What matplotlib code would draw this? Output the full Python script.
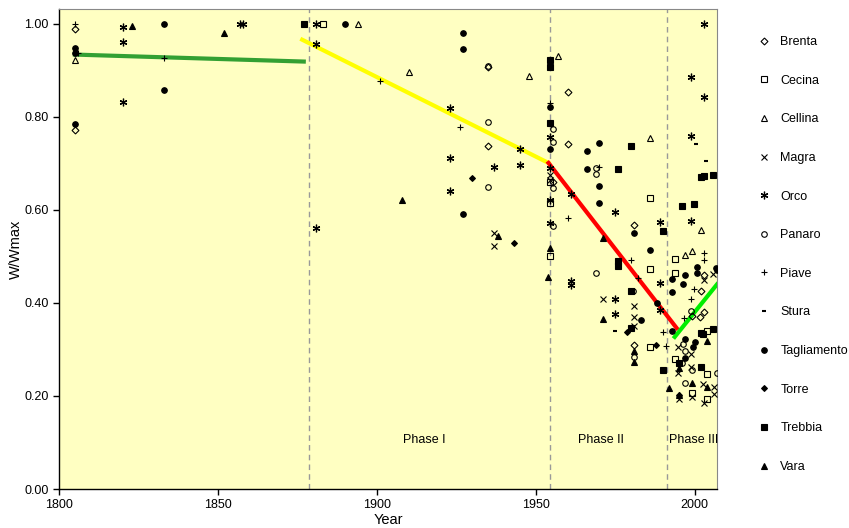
import matplotlib.pyplot as plt

plt.rcParams['font.family'] = ['Liberation Sans', 'DejaVu Sans']

# W/Wmax observations per river (year, value)
brenta_x = [1805, 1805, 1935, 1935, 1960, 1960, 1955.5, 1981, 1981, 2002.8, 2001.9, 2002.8, 1999, 2001.6]
brenta_y = [0.99, 0.772, 0.907, 0.738, 0.854, 0.742, 0.66, 0.568, 0.31, 0.46, 0.426, 0.381, 0.373, 0.37]

cecina_x = [1883, 1954.5, 1954.5, 1954.5, 1986, 1986, 1993.7, 1993.7, 1986, 1993.7, 2004, 2004, 1999, 2004]
cecina_y = [1.0, 0.66, 0.615, 0.501, 0.626, 0.473, 0.495, 0.465, 0.306, 0.28, 0.34, 0.247, 0.206, 0.194]

cellina_x = [1805, 1894, 1910, 1948, 1957, 1986, 2002, 1997, 1999]
cellina_y = [0.922, 1.0, 0.897, 0.888, 0.931, 0.754, 0.557, 0.503, 0.512]

magra_x = [1937, 1937, 1954.5, 1954.5, 1971, 1981, 1981, 1981, 2002.8, 2005.6, 1994.7, 1998.7,
           1998.7, 1994.7, 2002.5, 2006, 1995, 1999, 2002.8, 2006]
magra_y = [0.551, 0.523, 0.675, 0.665, 0.409, 0.394, 0.37, 0.35, 0.45, 0.462, 0.305, 0.29,
           0.262, 0.249, 0.226, 0.219, 0.194, 0.198, 0.185, 0.204]

orco_x = [1820, 1820, 1820, 1857, 1858, 1881, 1881, 1881, 1923, 1923, 1923, 1937, 1945, 1945,
          1954.5, 1954.5, 1954.5, 1954.5, 1961, 1961, 1961, 1975, 1975, 1975, 1989, 1989, 1989,
          1998.7, 1998.7, 1998.7, 2002.8, 2002.8]
orco_y = [0.993, 0.962, 0.833, 1.0, 1.0, 1.0, 0.956, 0.561, 0.82, 0.712, 0.641, 0.693, 0.73, 0.697,
          0.757, 0.69, 0.621, 0.572, 0.634, 0.447, 0.439, 0.596, 0.409, 0.376, 0.574, 0.443, 0.385,
          0.886, 0.759, 0.576, 1.0, 0.843]

panaro_x = [1935, 1935, 1935, 1955.5, 1955.5, 1955.5, 1955.5, 1969, 1969, 1969, 1980.5, 1981,
            1998.7, 1996.2, 1997, 1996, 1999, 1997, 2007]
panaro_y = [0.91, 0.789, 0.649, 0.774, 0.746, 0.647, 0.566, 0.69, 0.677, 0.465, 0.426, 0.284,
            0.383, 0.312, 0.297, 0.27, 0.255, 0.228, 0.249]

piave_x = [1805, 1806, 1833, 1901, 1926, 1954.5, 1960, 1970, 1980, 1982, 2002.8, 2002.8, 1999.7,
           1998.7, 1996.5, 1990, 1990.9]
piave_y = [1.0, 0.937, 0.926, 0.877, 0.779, 0.83, 0.583, 0.692, 0.492, 0.454, 0.507, 0.492, 0.43,
           0.409, 0.368, 0.337, 0.308]

stura_x = [1975, 2000.3, 2003.5]
stura_y = [0.34, 0.742, 0.706]

tagl_x = [1805, 1805, 1805, 1833, 1833, 1890, 1927, 1927, 1927, 1954.5, 1954.5, 1966, 1966, 1970,
          1970, 1970, 1981, 1986, 1983, 1988, 1992.7, 1992.7, 1992.7, 1996.2, 1997, 1997, 1997,
          2000, 1999.4, 2000.6, 2000.6, 2006.6, 2007]
tagl_y = [0.948, 0.937, 0.785, 1.0, 0.858, 1.0, 0.98, 0.946, 0.592, 0.822, 0.731, 0.727, 0.688, 0.744,
          0.652, 0.615, 0.55, 0.514, 0.363, 0.4, 0.452, 0.424, 0.34, 0.441, 0.46, 0.322, 0.282,
          0.316, 0.305, 0.477, 0.465, 0.475, 0.471]

torre_x = [1930, 1943, 1978.6, 1987.7, 1995]
torre_y = [0.668, 0.528, 0.338, 0.31, 0.202]

trebbia_x = [1877, 1954.5, 1954.5, 1954.5, 1976, 1980, 1976, 1976, 1980, 1980, 1990, 1990, 1996,
             1999.7, 2002, 2002.8, 2005.6, 2002, 2002.5, 2005.6, 1995, 2002]
trebbia_y = [1.0, 0.922, 0.908, 0.787, 0.688, 0.738, 0.49, 0.48, 0.426, 0.346, 0.555, 0.256, 0.609,
             0.613, 0.671, 0.673, 0.675, 0.336, 0.333, 0.344, 0.271, 0.262]

vara_x = [1823, 1852, 1908, 1938, 1954.5, 1953.8, 1971, 1971, 1981, 1981, 1991.8, 1995, 1999, 2004, 2004, 1995]
vara_y = [0.996, 0.98, 0.621, 0.544, 0.518, 0.456, 0.54, 0.366, 0.297, 0.273, 0.217, 0.26, 0.228, 0.318, 0.219, 0.202]

# trend segments per phase
trend0_x, trend0_y = [1805, 1877], [0.934, 0.919]
trend1_x, trend1_y = [1876.5, 1954], [0.966, 0.701]
trend2_x, trend2_y = [1954, 1994.3], [0.701, 0.346]
trend3_x, trend3_y = [1993.7, 2007], [0.327, 0.44]

phase_breaks = [1878.6, 1954.4, 1991.4]
phase_labels = ['Phase I', 'Phase II', 'Phase III']
phase_pos = [1915, 1970.5, 1999.5]

fig = plt.figure(figsize=(8.49, 5.28), dpi=100)
ax = fig.add_axes([59 / 849, 39 / 528, 658 / 849, 480 / 528])
ax.set_facecolor('#FFFFC2')

ax.plot(trend0_x, trend0_y, color='#33a033', lw=3, zorder=2)
ax.plot(trend1_x, trend1_y, color='#FFFF00', lw=3, zorder=2)
ax.plot(trend2_x, trend2_y, color='#FF0000', lw=3, zorder=2)
ax.plot(trend3_x, trend3_y, color='#00EE00', lw=3, zorder=2)

for b in phase_breaks:
    ax.axvline(b, color='#999999', lw=1, ls=(0, (4, 3)), zorder=1)
for lab, px in zip(phase_labels, phase_pos):
    ax.text(px, 0.105, lab, ha='center', va='center', fontsize=9)

k = dict(ls='none', ms=4, mec='black', mew=0.8, zorder=3)
ax.plot(brenta_x, brenta_y, marker='D', mfc='none', label='Brenta', **{**k, 'ms': 3.5})
ax.plot(cecina_x, cecina_y, marker='s', mfc='none', label='Cecina', **k)
ax.plot(cellina_x, cellina_y, marker='^', mfc='none', label='Cellina', **k)
ax.plot(magra_x, magra_y, marker='x', color='black', label='Magra', **k)
ax.plot(orco_x, orco_y, marker=(6, 2, 0), color='black', label='Orco', **{**k, 'ms': 5.5, 'mew': 0.9})
ax.plot(panaro_x, panaro_y, marker='o', mfc='none', label='Panaro', **k)
ax.plot(piave_x, piave_y, marker='+', color='black', label='Piave', **{**k, 'ms': 5})
ax.plot(stura_x, stura_y, marker='_', color='black', label='Stura', **{**k, 'ms': 3, 'mew': 1.5})
ax.plot(tagl_x, tagl_y, marker='o', color='black', label='Tagliamento', **k)
ax.plot(torre_x, torre_y, marker='D', color='black', label='Torre', **{**k, 'ms': 3})
ax.plot(trebbia_x, trebbia_y, marker='s', color='black', label='Trebbia', **k)
ax.plot(vara_x, vara_y, marker='^', color='black', label='Vara', **k)

ax.set_xlim(1800, 2007)
ax.set_ylim(0, 1.032)
ax.set_xticks([1800, 1850, 1900, 1950, 2000])
ax.set_yticks([0, 0.2, 0.4, 0.6, 0.8, 1.0])
ax.set_yticklabels(['%.2f' % v for v in [0, 0.2, 0.4, 0.6, 0.8, 1.0]])
ax.tick_params(labelsize=9, length=4, width=1, direction='out')
ax.set_xlabel('Year', fontsize=10.5, labelpad=1)
ax.set_ylabel('W/Wmax', fontsize=10.5, labelpad=1)
for s in ['top', 'right']:
    ax.spines[s].set_color('#888888')
    ax.spines[s].set_linewidth(0.8)
for s in ['left', 'bottom']:
    ax.spines[s].set_linewidth(1)

fig.legend(loc='upper left', bbox_to_anchor=(754 / 849, 1 - 31 / 528), frameon=False,
           fontsize=9, labelspacing=2.13, handlelength=0.8, handletextpad=0.9, borderaxespad=0)

fig.savefig('out.png', dpi=100)
